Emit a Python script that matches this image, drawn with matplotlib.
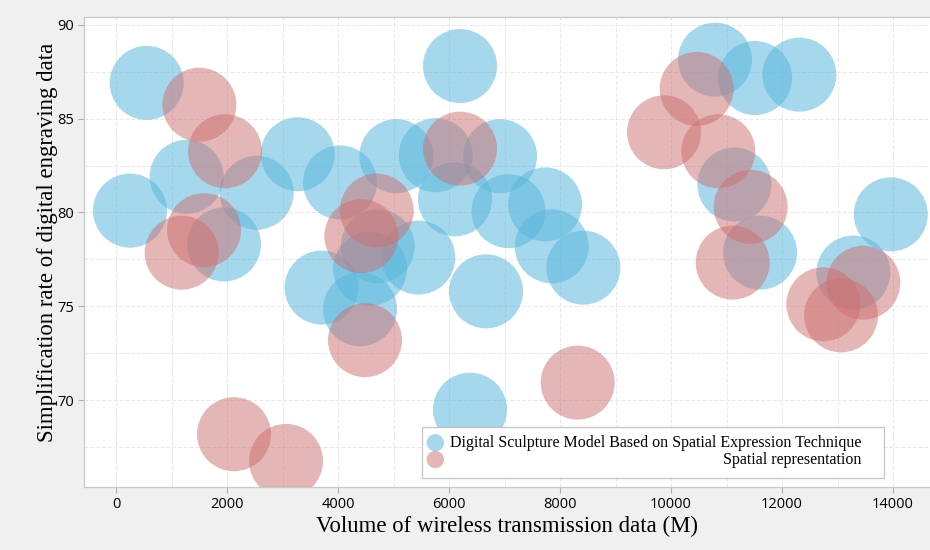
import matplotlib.pyplot as plt
from matplotlib.patches import Rectangle
from matplotlib.ticker import MultipleLocator

# Digital Sculpture Model Based on Spatial Expression Technique
sculpt_x = [553, 252, 1273, 1946, 2535, 3273, 4036, 3704, 4396, 4577,
            4715, 5050, 5447, 5760, 6108, 6198, 6919, 7072, 7730, 7850,
            8420, 6667, 6378, 10793, 11514, 12312, 11141, 11604, 13959, 13285]
sculpt_y = [86.9, 80.1, 81.9, 78.3, 81.05, 83.1, 81.6, 76.0, 74.85, 77.0,
            78.2, 83.0, 77.6, 83.05, 80.7, 87.8, 83.0, 80.07, 80.43, 78.2,
            77.06, 75.8, 69.5, 88.14, 87.16, 87.34, 81.49, 77.86, 79.9, 76.8]

# Spatial representation
spatial_x = [1501, 1964, 1586, 1183, 4697, 4420, 4486, 6198, 2126, 3063,
             8318, 10462, 9874, 10852, 11435, 11111, 13465, 12745, 13063]
spatial_y = [85.74, 83.26, 79.06, 77.86, 80.1, 78.74, 73.2, 83.4, 68.19, 66.77,
             70.94, 86.58, 84.27, 83.26, 80.3, 77.33, 76.26, 75.11, 74.52]

labels = ['Digital Sculpture Model Based on Spatial Expression Technique',
          'Spatial representation']

serif = ['Liberation Serif', 'DejaVu Serif']
sans = ['Open Sans', 'DejaVu Sans']

fig = plt.figure(figsize=(9.3, 5.5), dpi=100, facecolor='#f0f0f0')
ax = fig.add_axes([84 / 930, 1 - 487 / 550, 846 / 930, 470 / 550])
ax.set_facecolor('white')

size = 2840
ax.scatter(sculpt_x, sculpt_y, s=size, color='#5bb8de', alpha=0.55,
           edgecolors='none', label=labels[0], zorder=3)
ax.scatter(spatial_x, spatial_y, s=size, color='#cd6e6e', alpha=0.5,
           edgecolors='none', label=labels[1], zorder=3)

ax.set_xlim(-577, 14666)
ax.set_ylim(65.38, 90.41)
ax.xaxis.set_major_locator(MultipleLocator(2000))
ax.xaxis.set_minor_locator(MultipleLocator(1000))
ax.yaxis.set_major_locator(MultipleLocator(5))
ax.yaxis.set_minor_locator(MultipleLocator(2.5))
ax.grid(which='both', color='#e8e8e8', linestyle=(0, (4, 2)), linewidth=0.7, zorder=0)
ax.set_axisbelow(True)

for side in ['left', 'bottom', 'top']:
    ax.spines[side].set_color('#c8c8c8')
    ax.spines[side].set_linewidth(0.9)
ax.spines['right'].set_visible(False)

ax.tick_params(which='major', length=4, color='#b0b0b0', labelsize=10.5, pad=3)
ax.tick_params(which='minor', length=0)
for t in ax.get_xticklabels() + ax.get_yticklabels():
    t.set_fontfamily(sans)

ax.set_xlabel('Volume of wireless transmission data (M)', fontsize=16.4,
              family=serif, labelpad=3)
ax.set_ylabel('Simplification rate of digital engraving data', fontsize=16.4,
              family=serif)
ax.yaxis.set_label_coords(-0.0307, 0.521)

# legend frame drawn separately so the right margin can be wider
x0, y0 = 0.3992, 0.0191
x1, y1 = 0.9456, 0.1277
ax.add_patch(Rectangle((x0, y0), x1 - x0, y1 - y0, transform=ax.transAxes,
                       facecolor='white', edgecolor='#c4c4c4', linewidth=0.9,
                       zorder=5))
leg = ax.legend(loc='upper left', bbox_to_anchor=(x0, y1), borderaxespad=0,
                prop={'family': serif, 'size': 11.5}, markerscale=0.235,
                frameon=False, labelspacing=0.05, handletextpad=0.6,
                borderpad=0.5, handlelength=0.7)
leg.set_zorder(6)

# right-align the shorter legend entry under the longer one
fig.canvas.draw()
texts = leg.get_texts()
w0 = texts[0].get_window_extent().width
w1 = texts[1].get_window_extent().width
texts[1].set_position((w0 - w1, 0))

fig.savefig('out.png', dpi=100, facecolor=fig.get_facecolor())
